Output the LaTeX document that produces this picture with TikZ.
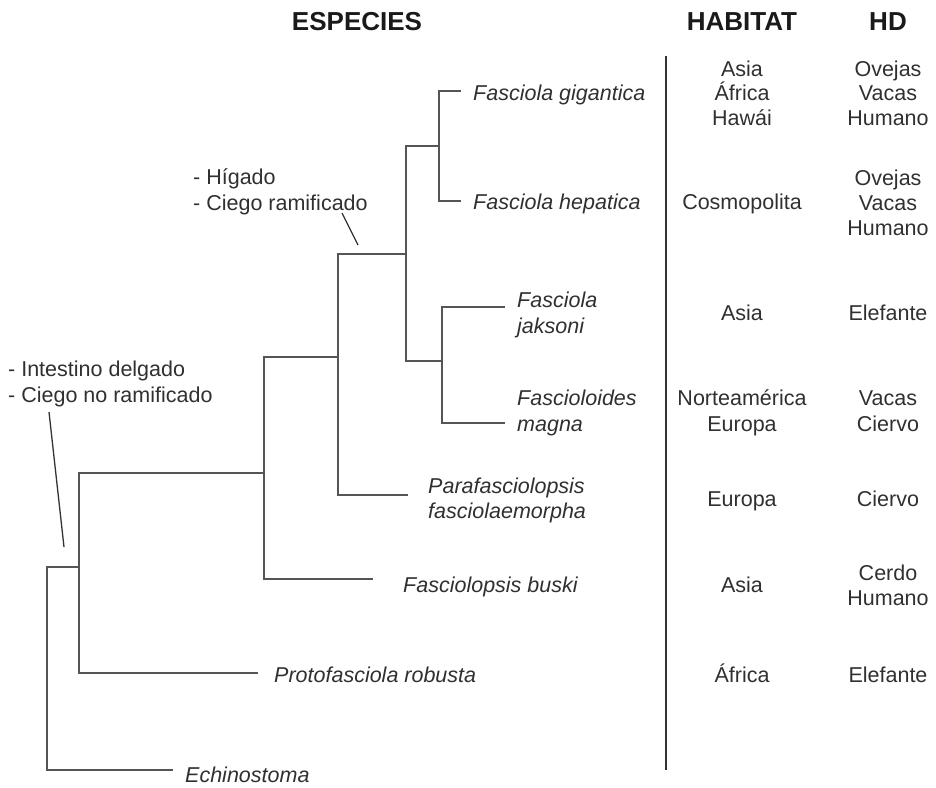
\documentclass[tikz,border=0pt]{standalone}
\usepackage{fontspec}
\setmainfont{Liberation Sans}
\definecolor{linegray}{HTML}{555555}
\definecolor{txtgray}{HTML}{303030}
\definecolor{divgray}{HTML}{333333}
\definecolor{headblack}{HTML}{1A1A1A}
\begin{document}
\begin{tikzpicture}[x=1pt,y=-1pt,
  br/.style={draw=linegray, line width=1.5pt},
  ann/.style={draw=divgray, line width=1.3pt},
  divline/.style={draw=divgray, line width=1.8pt},
  lbl/.style={font=\fontsize{21.5}{25}\selectfont, inner sep=0pt, text=txtgray},
  sp/.style={lbl, font=\fontsize{21.5}{25}\selectfont\itshape, anchor=base west},
  col/.style={lbl, anchor=base},
  note/.style={lbl, anchor=base west},
  head/.style={font=\fontsize{26}{30}\selectfont\bfseries, inner sep=0pt, text=headblack, anchor=base}]
\useasboundingbox (0,0) rectangle (936,787);

% headers
\node[head] (hEsp) at (357,30) {ESPECIES};
\node[head] (hHab) at (742,30) {HABITAT};
\node[head] (hHD) at (888,30) {HD};

% branch points
\coordinate (R) at (47,567);
\coordinate (A) at (79,567);
\coordinate (B) at (264,473);
\coordinate (C) at (338,357);
\coordinate (D) at (406,254);
\coordinate (E) at (439,146);
\coordinate (F) at (442,361);
% leaf ends
\coordinate (gigE) at (461,91);
\coordinate (hepE) at (461,201);
\coordinate (jakE) at (505,307);
\coordinate (magE) at (505,423);
\coordinate (paraE) at (408,495);
\coordinate (buskiE) at (373,579);
\coordinate (protoE) at (258,673);
\coordinate (echE) at (173,770);

% tree
\draw[br] (A) -- (R) |- (echE);
\draw[br] (B) -| (A) |- (protoE);
\draw[br] (C) -| (B) |- (buskiE);
\draw[br] (D) -| (C) |- (paraE);
\draw[br] (E) -| (D) |- (F);
\draw[br] (gigE) -| (E) |- (hepE);
\draw[br] (jakE) -| (F) |- (magE);

% species labels
\node[sp] (gig) at (473,100) {Fasciola gigantica};
\node[sp] (hep) at (473,209) {Fasciola hepatica};
\node[sp] (jak1) at (517,307) {Fasciola};
\node[sp] (jak2) at (517,333) {jaksoni};
\node[sp] (mag1) at (517,405) {Fascioloides};
\node[sp] (mag2) at (517,431) {magna};
\node[sp] (para1) at (428,493) {Parafasciolopsis};
\node[sp] (para2) at (428,518) {fasciolaemorpha};
\node[sp] (busk) at (403,592) {Fasciolopsis buski};
\node[sp] (proto) at (274,682) {Protofasciola robusta};
\node[sp] (ech) at (185,782) {Echinostoma};

% annotations
\node[note] (nH1) at (193,184) {- Hígado};
\node[note] (nH2) at (193,210) {- Ciego ramificado};
\node[note] (nI1) at (8,376) {- Intestino delgado};
\node[note] (nI2) at (8,402) {- Ciego no ramificado};
\coordinate (aH1) at (342,213);
\coordinate (aH2) at (358,245);
\coordinate (aI1) at (49,412);
\coordinate (aI2) at (64,547);
\draw[ann] (aH1) -- (aH2);
\draw[ann] (aI1) -- (aI2);

% divider
\coordinate (dTop) at (666,56);
\coordinate (dBot) at (666,770);
\draw[divline] (dTop) -- (dBot);

% habitat column
\node[col] (hab1a) at (742,76) {Asia};
\node[col] (hab1b) at (742,100) {África};
\node[col] (hab1c) at (742,125) {Hawái};
\node[col] (hab2) at (742,209) {Cosmopolita};
\node[col] (hab3) at (742,320) {Asia};
\node[col] (hab4a) at (742,405) {Norteamérica};
\node[col] (hab4b) at (742,431) {Europa};
\node[col] (hab5) at (742,506) {Europa};
\node[col] (hab6) at (742,592) {Asia};
\node[col] (hab7) at (742,682) {África};

% HD column
\node[col] (hd1a) at (888,76) {Ovejas};
\node[col] (hd1b) at (888,100) {Vacas};
\node[col] (hd1c) at (888,125) {Humano};
\node[col] (hd2a) at (888,185) {Ovejas};
\node[col] (hd2b) at (888,210) {Vacas};
\node[col] (hd2c) at (888,235) {Humano};
\node[col] (hd3) at (888,320) {Elefante};
\node[col] (hd4a) at (888,405) {Vacas};
\node[col] (hd4b) at (888,431) {Ciervo};
\node[col] (hd5) at (888,506) {Ciervo};
\node[col] (hd6a) at (888,580) {Cerdo};
\node[col] (hd6b) at (888,605) {Humano};
\node[col] (hd7) at (888,682) {Elefante};
\end{tikzpicture}
\end{document}
